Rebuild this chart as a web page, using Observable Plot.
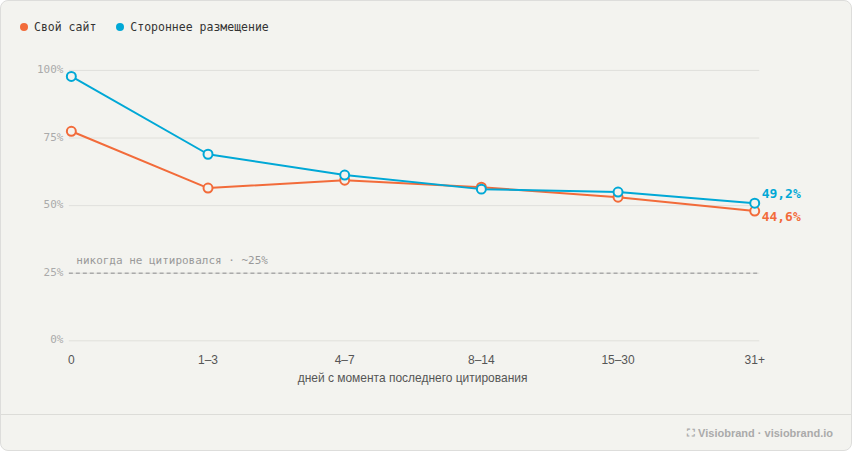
<!DOCTYPE html>
<html><head><meta charset="utf-8">
<script src="https://cdn.jsdelivr.net/npm/d3@7"></script>
<script src="https://cdn.jsdelivr.net/npm/@observablehq/plot@0.6"></script>
<style>
html,body{margin:0;padding:0;background:#fff;}
#card{position:relative;width:850px;height:449px;background:#f3f3ef;border:1px solid #dddddb;border-radius:8px;overflow:hidden;font-family:"DejaVu Sans Mono",monospace;}
#legend{position:absolute;left:19px;top:19px;font-size:11.5px;color:#333;display:flex;gap:20px;}
#legend span.d{display:inline-block;width:8px;height:8px;border-radius:50%;margin-right:6px;vertical-align:0px;}
#chart{position:absolute;left:0;top:45px;}
#footer{position:absolute;left:0;right:0;top:413px;border-top:1px solid #dcdcd8;height:36px;}
#footer div{position:absolute;right:18px;top:12px;font:bold 11px "Liberation Sans",Arial,sans-serif;color:#aaa;}
</style></head><body>
<div id="card">
<div id="legend"><div><span class="d" style="background:#f26b3a"></span>Свой сайт</div><div><span class="d" style="background:#00a8d6"></span>Стороннее размещение</div></div>
<div id="chart"></div>
<div id="footer"><div>⛶ Visiobrand · visiobrand.io</div></div>
</div>
<script>
const categories = ["0","1–3","4–7","8–14","15–30","31+"];
const own = [77.5, 56.5, 59.4, 56.8, 53.1, 48.0];
const third = [97.8, 69.0, 61.3, 56.1, 55.0, 50.9];
const ownLabel = "44,6%";
const thirdLabel = "49,2%";
const yTicks = [0,25,50,75,100];
const baseline = 25;
const orange = "#f26b3a", blue = "#00a8d6";
const data = [
  ...categories.map((c,i)=>({c, v: own[i], s:"own"})),
  ...categories.map((c,i)=>({c, v: third[i], s:"third"}))
];
const first = () => categories[0];
const mono = "DejaVu Sans Mono, monospace";
const chart = Plot.plot({
  width: 852, height: 350,
  marginLeft: 68, marginRight: 96, marginTop: 24, marginBottom: 55,
  style: {background: "transparent", fontFamily: "Liberation Sans, Arial, sans-serif", fontSize: "12px"},
  x: {type: "point", domain: categories, padding: 0, label: null},
  y: {domain: [0, 100], label: null, axis: null},
  marks: [
    Plot.ruleY(yTicks, {stroke: "#e0e0dc", strokeWidth: 1, insetRight: -4}),
    Plot.ruleY([baseline], {stroke: "#aaa", strokeWidth: 1.5, strokeDasharray: "4,3", insetRight: -4}),
    Plot.text(["никогда не цитировался · ~25%"], {x: first, y: () => baseline, dy: -13, dx: 5, textAnchor: "start", fill: "#999", fontFamily: mono, fontSize: 11}),
    Plot.text(yTicks, {x: first, y: d=>d, text: d=>d+"%", dx: -8, dy: -1, textAnchor: "end", fill: "#aaa", fontFamily: mono, fontSize: 11}),
    Plot.axisX({tickSize: 0, tickPadding: 15, fill: "#555", fontSize: 12, label: null}),
    Plot.text(["дней с момента последнего цитирования"], {frameAnchor: "bottom", dy: 41, fill: "#555", fontSize: 12}),
    Plot.line(data, {x: "c", y: "v", z: "s", stroke: d=>d.s==="own"?orange:blue, strokeWidth: 2}),
    Plot.dot(data, {x: "c", y: "v", r: 4.5, fill: "#f3f3ef", stroke: d=>d.s==="own"?orange:blue, strokeWidth: 2}),
    Plot.text([{c: categories[5], v: third[5], t: thirdLabel}], {x:"c", y:"v", text:"t", dx: 7, dy: -9, textAnchor:"start", fill: blue, fontWeight:"bold", fontFamily: mono, fontSize: 13}),
    Plot.text([{c: categories[5], v: own[5], t: ownLabel}], {x:"c", y:"v", text:"t", dx: 7, dy: 6, textAnchor:"start", fill: orange, fontWeight:"bold", fontFamily: mono, fontSize: 13})
  ]
});
document.getElementById("chart").append(chart);
</script>
</body></html>
